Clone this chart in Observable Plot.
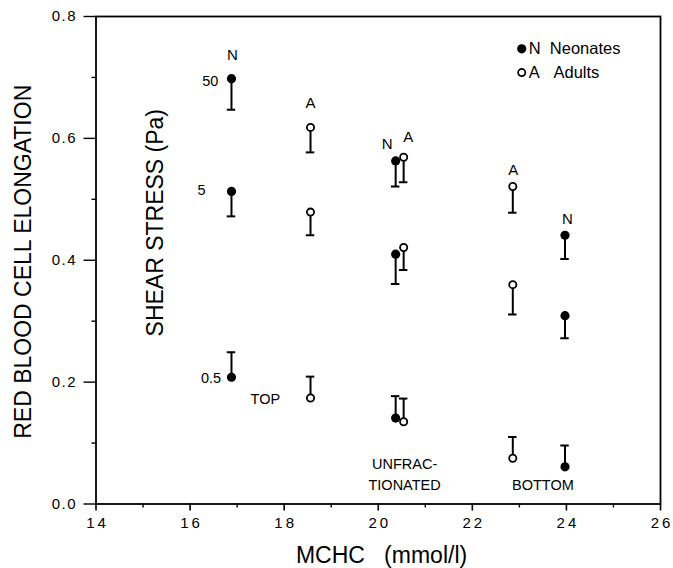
<!DOCTYPE html>
<html>
<head>
<meta charset="utf-8">
<script src="https://cdn.jsdelivr.net/npm/d3@7"></script>
<script src="https://cdn.jsdelivr.net/npm/@observablehq/plot@0.6"></script>
<style>
  html, body { margin: 0; padding: 0; background: #fff; }
</style>
</head>
<body>
<div id="chart"></div>
<script>
// ---- data ----
const group   = ["N","N","N","N","N","N","N","N","N","A","A","A","A","A","A","A","A","A"];
const stress  = [50, 5, 0.5, 50, 5, 0.5, 50, 5, 0.5, 50, 5, 0.5, 50, 5, 0.5, 50, 5, 0.5];
const mchc    = [16.88,16.88,16.88,20.37,20.37,20.37,23.97,23.97,23.97,
                 18.56,18.56,18.56,20.54,20.54,20.54,22.86,22.86,22.86];
const elong   = [0.698,0.513,0.208,0.563,0.410,0.141,0.441,0.309,0.061,
                 0.618,0.479,0.174,0.569,0.421,0.135,0.521,0.360,0.075];
const errEnd  = [0.647,0.472,0.249,0.521,0.361,0.177,0.402,0.272,0.096,
                 0.577,0.441,0.209,0.528,0.384,0.173,0.478,0.311,0.110];

// group letters above columns
const letterText = ["N","A","N","A","A","N"];
const letterX    = [16.9, 18.56, 20.19, 20.64, 22.87, 24.02];
const letterY    = [0.736, 0.657, 0.591, 0.602, 0.547, 0.468];

// shear stress labels
const stressText = ["50","5","0.5"];
const stressX    = [16.6, 16.33, 16.66];
const stressY    = [0.694, 0.515, 0.207];

// fraction labels
const fracText = ["TOP","UNFRAC-","TIONATED","BOTTOM"];
const fracX    = [17.6, 20.56, 20.56, 23.5];
const fracY    = [0.172, 0.0657, 0.0312, 0.031];

// legend
const legendSym   = ["N","A"];
const legendText  = ["N  Neonates","A   Adults"];
const legendY     = [0.747, 0.708];

// titles
const xTitle = "MCHC   (mmol/l)";
const yTitle = "RED BLOOD CELL ELONGATION";
const stressTitle = "SHEAR STRESS (Pa)";

// ticks
const xTicks = [14,16,18,20,22,24,26];
const xMinor = [15,17,19,21,23,25];
const yTicks = [0,0.2,0.4,0.6,0.8];
const yMinor = [0.1,0.3,0.5,0.7];

const rows = group.map((g,i)=>({group:g, stress:stress[i], x:mchc[i], y:elong[i], end:errEnd[i]}));
const letters = letterText.map((t,i)=>({t, x:letterX[i], y:letterY[i]}));
const stressLab = stressText.map((t,i)=>({t, x:stressX[i], y:stressY[i]}));
const fracs = fracText.map((t,i)=>({t, x:fracX[i], y:fracY[i]}));
const legend = legendSym.map((s,i)=>({s, t:legendText[i], x:23.05, y:legendY[i]}));

const font = "Liberation Sans, Arial, Helvetica, sans-serif";
const nb = s => s.replace(/ /g, "\u00a0");

const chart = Plot.plot({
  width: 673,
  height: 568,
  marginLeft: 95.5,
  marginRight: 13,
  marginTop: 16,
  marginBottom: 64.5,
  style: {fontFamily: font, background: "#fff", color: "#000", overflow: "visible"},
  x: {domain: [14, 26]},
  y: {domain: [0, 0.8]},
  marks: [
    Plot.frame({stroke: "#000", strokeWidth: 1.8}),
    Plot.axisX({ticks: xTicks, tickSize: 7, tickPadding: 6, tickFormat: d => String(d), fontSize: 15, label: null, strokeWidth: 1.6}),
    Plot.axisX({ticks: xMinor, tickSize: 4, tickFormat: () => "", label: null, strokeWidth: 1.4}),
    Plot.axisY({ticks: yTicks, tickSize: 12, tickPadding: 7, tickFormat: d3.format(".1f"), fontSize: 15, label: null, strokeWidth: 1.4}),
    Plot.axisY({ticks: yMinor, tickSize: 4, tickFormat: () => "", label: null, strokeWidth: 1.4}),
    // error bars
    Plot.ruleX(rows, {x: "x", y1: "y", y2: "end", stroke: "#000", strokeWidth: 2}),
    Plot.ruleY(rows, {y: "end", x1: d => d.x - 0.09, x2: d => d.x + 0.09, stroke: "#000", strokeWidth: 2}),
    // points
    Plot.dot(rows.filter(d => d.group === "N"), {x: "x", y: "y", r: 4.6, fill: "#000", stroke: "none"}),
    Plot.dot(rows.filter(d => d.group === "A"), {x: "x", y: "y", r: 3.6, fill: "#fff", stroke: "#000", strokeWidth: 1.8}),
    // annotations
    Plot.text(letters, {x: "x", y: "y", text: "t", fontSize: 15, fill: "#000"}),
    Plot.text(stressLab, {x: "x", y: "y", text: "t", textAnchor: "end", fontSize: 14.5, fill: "#000", ariaLabel: "spaced1"}),
    Plot.text(fracs, {x: "x", y: "y", text: "t", fontSize: 14.5, fill: "#000", ariaLabel: "spaced1"}),
    Plot.text([stressTitle], {x: 15.27, y: 0.4616, text: d => d, rotate: -90, fontSize: 23, fill: "#000", ariaLabel: "spaced1"}),
    // legend
    Plot.dot(legend.filter(d => d.s === "N"), {x: "x", y: "y", r: 4.6, fill: "#000"}),
    Plot.dot(legend.filter(d => d.s === "A"), {x: "x", y: "y", r: 3.6, fill: "#fff", stroke: "#000", strokeWidth: 1.8}),
    Plot.text(legend, {x: "x", y: "y", text: d => nb(d.t), dx: 7, textAnchor: "start", fontSize: 16.5, fill: "#000", ariaLabel: "spaced15"}),
    // axis titles
    Plot.text([yTitle], {x: 12.46, y: 0.3975, text: d => d, rotate: -90, fontSize: 23, fill: "#000", ariaLabel: "spaced05"}),
    Plot.text([xTitle], {x: 20.07, y: -0.0854, text: d => nb(d), fontSize: 23, fill: "#000", ariaLabel: "spaced1"})
  ]
});
d3.select(chart).selectAll("g[aria-label='spaced1'] text").style("letter-spacing", "1px");
d3.select(chart).selectAll("g[aria-label='spaced15'] text").style("letter-spacing", "1.5px");
d3.select(chart).selectAll("g[aria-label='spaced05'] text").style("letter-spacing", "0.5px");
d3.select(chart).selectAll("g[aria-label='x-axis tick label'] text").style("letter-spacing", "3px").attr("dx", "1.5");
d3.select(chart).selectAll("g[aria-label='y-axis tick label'] text").style("letter-spacing", "1.5px");
document.getElementById("chart").appendChild(chart);
</script>
</body>
</html>
